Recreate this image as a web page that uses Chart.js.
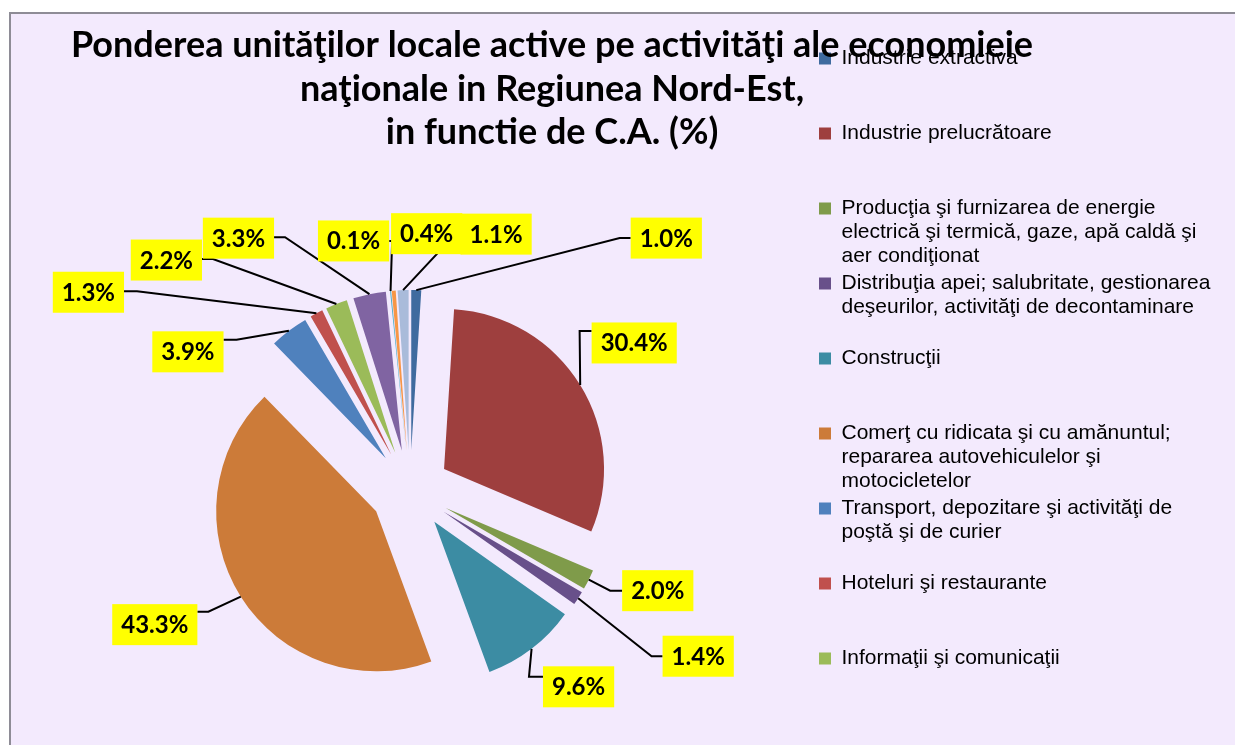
<!DOCTYPE html>
<html>
<head>
<meta charset="utf-8">
<script src="https://cdn.jsdelivr.net/npm/chart.js@4.4.1/dist/chart.umd.min.js"></script>
<style>
  html, body { margin: 0; padding: 0; background: #ffffff; }
  #wrap { position: relative; width: 1235px; height: 745px; }
</style>
</head>
<body>
<div id="wrap"><canvas id="c"></canvas></div>
<script>
// ---------- data ----------
const titleLines = [
  'Ponderea unităţilor locale active pe activităţi ale economieie',
  'naţionale in Regiunea Nord-Est,',
  'in functie de C.A. (%)'
];
const categories = [
  ['Industrie extractiva'],
  ['Industrie prelucrătoare'],
  ['Producţia şi furnizarea de energie', 'electrică şi termică, gaze, apă caldă şi', 'aer condiţionat'],
  ['Distribuţia apei; salubritate, gestionarea', 'deşeurilor, activităţi de decontaminare'],
  ['Construcţii'],
  ['Comerţ cu ridicata şi cu amănuntul;', 'repararea autovehiculelor şi', 'motocicletelor'],
  ['Transport, depozitare şi activităţi de', 'poştă şi de curier'],
  ['Hoteluri şi restaurante'],
  ['Informaţii şi comunicaţii'],
  ['Intermedieri financiare şi asigurări'],
  ['Tranzacţii imobiliare'],
  ['Activităţi profesionale, ştiinţifice şi tehnice'],
  ['Activităţi de servicii administrative şi activităţi de servicii suport']
];
const values = [1.0, 30.4, 2.0, 1.4, 9.6, 43.3, 3.9, 1.3, 2.2, 3.3, 0.1, 0.4, 1.1];

// ---------- styles / layout ----------
const sliceColors = ['#3F6B9F', '#9E3F3E', '#7F9B4A', '#68508A', '#3C8CA3', '#CC7B39',
                     '#4F81BD', '#C0504D', '#9BBB59', '#8064A2', '#4BACC6', '#F79646', '#A9BBDA'];
const LEGEND_VISIBLE = 9;
const PIE_RADIUS = 160;
const EXPLODE = 40;            // px each slice is pulled out
// label box centre relative to slice tip: [dx, dy, attachDy, elbow, showLeader]
const labelLayout = [
  [250, -52, 0, 11, true],
  [54, -42, -12, 12, true],
  [69, 11, 0, 12, true],
  [120, 58, 0, 11, true],
  [47, 38, -10, 14, true],
  [-86, 28, -13, 11, true],
  [-101, 21, -12, 13, true],
  [-228, -21, -1, 13, true],
  [-170, -44, -1, 11, true],
  [-131, -56, -1, 11, true],
  [-37, -50, 0, 3, true],
  [33, -57, 0, 10, false],
  [93, -56, -1, 4, true]
];

// ---------- plugins ----------
const frame = {
  id: 'frame',
  beforeDraw(chart) {
    const {ctx, width, height} = chart;
    ctx.save();
    ctx.fillStyle = '#ffffff';
    ctx.fillRect(0, 0, width, height);
    ctx.fillStyle = '#F3EAFD';
    ctx.fillRect(10, 14, width - 10, height - 14);
    ctx.fillStyle = '#8E8C96';
    ctx.fillRect(9, 12, width - 9, 2);
    ctx.fillRect(9, 12, 2, height - 12);
    ctx.restore();
  }
};

// keep every exploded slice at the same radius and its true angle
const explodeFix = {
  id: 'explodeFix',
  afterDatasetUpdate(chart, args) {
    args.meta.data.forEach(arc => {
      const o = (arc.options.offset || 0) / 4;
      const fix = 1 - Math.sin(Math.min(Math.PI, arc.circumference || 0));
      const drawnR = arc.outerRadius;
      arc.outerRadius = drawnR - o * fix;
      const d = (o * fix) / (2 * Math.PI * drawnR);
      arc.startAngle -= d;
      arc.endAngle += d;
    });
  }
};

const pctLabels = {
  id: 'pctLabels',
  afterDatasetsDraw(chart) {
    const meta = chart.getDatasetMeta(0);
    const ctx = chart.ctx;
    ctx.save();
    ctx.font = 'bold 24px Lato';
    const items = meta.data.map((arc, i) => {
      const o = (arc.options.offset || 0) / 4;
      const fix = 1 - Math.sin(Math.min(Math.PI, arc.circumference || 0));
      const mid = (arc.startAngle + arc.endAngle) / 2;
      const dist = o + arc.outerRadius + o * fix;
      const ax = arc.x + Math.cos(mid) * dist;
      const ay = arc.y + Math.sin(mid) * dist;
      const [dx, dy, attachDy, elbow, show] = labelLayout[i];
      const text = values[i].toFixed(1) + '%';
      const w = ctx.measureText(text).width + 18;
      const h = 41;
      const cx = ax + dx, cy = ay + dy;
      return {ax, ay, cx, cy, w, h, text, attachDy, elbow, show};
    });
    ctx.strokeStyle = '#000000';
    ctx.lineWidth = 2;
    items.forEach(it => {
      if (!it.show) return;
      const right = it.cx > it.ax;
      const attachX = right ? it.cx - it.w / 2 : it.cx + it.w / 2;
      const elbowX = right ? attachX - it.elbow : attachX + it.elbow;
      const y = it.cy + it.attachDy;
      ctx.beginPath();
      ctx.moveTo(it.ax, it.ay);
      ctx.lineTo(elbowX, y);
      ctx.lineTo(attachX, y);
      ctx.stroke();
    });
    items.forEach(it => {
      ctx.fillStyle = '#FFFF00';
      ctx.fillRect(it.cx - it.w / 2, it.cy - it.h / 2, it.w, it.h);
      ctx.fillStyle = '#000000';
      ctx.textAlign = 'center';
      ctx.textBaseline = 'alphabetic';
      ctx.fillText(it.text, it.cx, it.cy + 8.5);
    });
    ctx.restore();
  }
};

// ---------- chart ----------
new Chart(document.getElementById('c'), {
  type: 'pie',
  data: {
    labels: categories,
    datasets: [{
      data: values,
      backgroundColor: sliceColors,
      borderWidth: 0,
      offset: EXPLODE * 4,
      radius: PIE_RADIUS
    }]
  },
  options: {
    responsive: true,
    maintainAspectRatio: false,
    animation: false,
    events: [],
    layout: { padding: { top: 14, right: 15, bottom: 0, left: -116 } },
    plugins: {
      tooltip: { enabled: false },
      title: {
        display: true,
        text: titleLines,
        color: '#000000',
        font: { family: 'Lato', weight: 'bold', size: 36, lineHeight: '43.5px' },
        padding: { top: 10, bottom: 80.5 }
      },
      subtitle: {
        display: true,
        position: 'left',
        text: ' ',
        font: { size: 10, lineHeight: '10px' },
        padding: { top: 0, bottom: 110 }
      },
      legend: {
        display: true,
        position: 'right',
        align: 'start',
        maxWidth: 404,
        title: { display: true, text: ' ', font: { size: 10, lineHeight: 1.2 }, padding: { top: 0, bottom: 19 } },
        labels: {
          boxWidth: 12,
          boxHeight: 12,
          padding: 3,
          color: '#000000',
          font: { family: 'Liberation Sans', size: 21, lineHeight: '24px' },
          generateLabels(chart) {
            return categories.map((lines, i) => {
              const text = lines.slice();
              while (text.length < 3) text.push('');
              return {
                text,
                fillStyle: sliceColors[i],
                strokeStyle: sliceColors[i],
                lineWidth: 0,
                hidden: false,
                index: i,
                fontColor: '#000000'
              };
            });
          },
          filter: (item) => item.index < LEGEND_VISIBLE
        }
      }
    }
  },
  plugins: [frame, explodeFix, pctLabels]
});
</script>
</body>
</html>
